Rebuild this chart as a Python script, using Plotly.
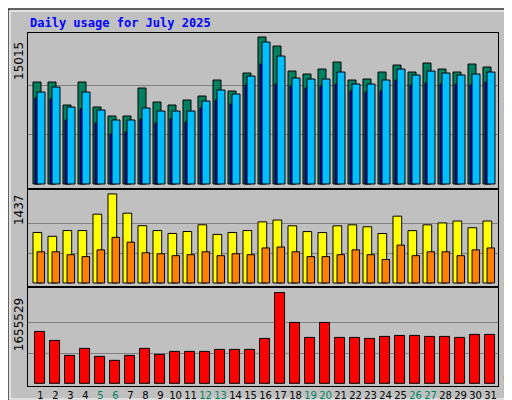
import plotly.graph_objects as go

days = list(range(1, 32))
weekend = [5, 6, 12, 13, 19, 20, 26, 27]

hits = [10415, 10415, 8066, 10415, 7862, 6943, 6943, 9802, 8372, 8066, 8577, 8985, 10619, 9495, 11333, 15015,
        14090, 11537, 11231, 11741, 12456, 10619, 10721, 11435, 12150, 11435, 12354, 11741, 11435, 12252, 11946]
files = [9393, 9904, 7862, 9393, 7556, 6535, 6535, 7760, 7453, 7453, 7453, 8474, 9598, 9189, 11027, 14498,
         13069, 10823, 10721, 10721, 11435, 10210, 10210, 10619, 11741, 11129, 11537, 11333, 11129, 11231, 11435]
pages = [8781, 8679, 6535, 7658, 6228, 5105, 5309, 6637, 6228, 6637, 6330, 7760, 8577, 8168, 10108, 12252,
         10210, 10006, 9802, 10006, 10210, 9495, 9393, 9495, 10619, 10108, 10312, 10210, 10210, 10108, 10415]
visits = [815, 753, 846, 846, 1110, 1437, 1126, 924, 846, 799, 830, 939, 784, 815, 846, 986,
          1016, 922, 829, 813, 922, 938, 907, 798, 1078, 844, 938, 969, 1000, 891, 1000]
sites = [503, 503, 456, 425, 534, 736, 658, 487, 471, 440, 456, 503, 440, 471, 456, 565,
         580, 503, 425, 425, 456, 534, 456, 378, 611, 440, 503, 503, 440, 534, 565]
kbytes = [946000, 782300, 509400, 636800, 491200, 418400, 509400, 636800, 527600, 582200, 582200, 582200,
          618600, 618600, 618600, 818700, 1655529, 1109800, 836900, 1109800, 836900, 836900, 818700, 855100,
          873300, 873300, 855100, 855100, 836900, 891500, 891500]

max_hits, max_visits, max_kb = 15015, 1437, 1655529

GREEN, FILES, PAGES = "#00805F", "#00BFFF", "#0000FF"
YEL, ORA, RED = "#FFFF00", "#FF8000", "#FF0000"
line = dict(color="black", width=1)

fig = go.Figure()


def bar(y, color, off, w, ax):
    fig.add_trace(go.Bar(x=days, y=y, marker=dict(color=color, line=line), offset=off, width=w,
                         xaxis="x" + ax, yaxis="y" + ax, hoverinfo="skip"))


bar(hits, GREEN, 0, 8 / 15, "")
bar(pages, PAGES, 2 / 15, 3 / 15, "")
bar(files, FILES, 4 / 15, 8 / 15, "")
bar(visits, YEL, 0, 0.58, "2")
bar(sites, ORA, 0.27, 0.5, "2")
bar(kbytes, RED, 0.1, 0.67, "3")

ticktext = [f'<span style="color:{GREEN}">{d}</span>' if d in weekend else str(d) for d in days]
xbase = dict(range=[2 / 3, 32], showline=True, mirror=True, linecolor="black", linewidth=1,
             showgrid=False, zeroline=False, fixedrange=True, automargin=False)
fig.update_layout(
    width=512, height=400, margin=dict(l=20, r=22, t=25, b=22),
    paper_bgcolor="#C0C0C0", plot_bgcolor="#C0C0C0", barmode="overlay", showlegend=False,
    font=dict(family="DejaVu Sans", size=11, color="black"),
    xaxis=dict(xbase, anchor="y", showticklabels=False),
    xaxis2=dict(xbase, anchor="y2", showticklabels=False, matches="x"),
    xaxis3=dict(xbase, anchor="y3", matches="x", tickvals=[d + 0.5 for d in days], ticktext=ticktext,
                ticks="", tickangle=0, tickfont=dict(size=10, family="DejaVu Sans")),
)
ybase = dict(showline=True, mirror=True, linecolor="black", linewidth=1, showticklabels=False,
             gridcolor="#808080", gridwidth=1, zeroline=False, ticks="", fixedrange=True, automargin=False)
fig.update_layout(
    yaxis=dict(ybase, domain=[0.561, 1], range=[-408, 15423], tickvals=[max_hits / 3, max_hits * 2 / 3]),
    yaxis2=dict(ybase, domain=[0.283, 0.555], range=[-51, 1499], tickvals=[max_visits / 3, max_visits * 2 / 3]),
    yaxis3=dict(ybase, domain=[0, 0.277], range=[-49000, 1733760], tickvals=[max_kb / 3, max_kb * 2 / 3]),
)

ann = dict(xref="paper", yref="paper", showarrow=False, textangle=-90)
lx = -9 / 470
fig.add_annotation(ann, x=lx, y=1 - 28 / 353, xanchor="center", yanchor="middle", text=str(max_hits), font=dict(size=12))
fig.add_annotation(ann, x=lx, y=0.555 - 20 / 353, xanchor="center", yanchor="middle", text=str(max_visits), font=dict(size=12))
fig.add_annotation(ann, x=lx, y=0.277 - 37 / 353, xanchor="center", yanchor="middle", text=str(max_kb), font=dict(size=12))
mono = dict(family="DejaVu Sans Mono", size=11)
rx = 1 + 10 / 470
fig.add_annotation(ann, x=rx, y=1 - 67 / 353, xanchor="center", yanchor="middle", font=mono,
                   text=f'<span style="color:{FILES}">Pages</span> / <span style="color:{PAGES}">Files</span>'
                        f' / <span style="color:{GREEN}">Hits</span>')
fig.add_annotation(ann, x=rx, y=0.555 - 50 / 353, xanchor="center", yanchor="middle", font=mono,
                   text=f'<span style="color:{ORA}">Sites</span> / <span style="color:{YEL}">Visits</span>')
fig.add_annotation(ann, x=rx, y=72 / 353 - 53 / 353, xanchor="center", yanchor="middle", font=mono,
                   text=f'<span style="color:{RED}">KBytes</span>')
fig.add_annotation(xref="paper", yref="paper", x=0, y=1 + 10 / 353, xanchor="left", yanchor="middle", showarrow=False,
                   text="<b>Daily usage for July 2025</b>", font=dict(family="DejaVu Sans Mono", size=12, color="#0000FF"))

# outer border
fig.add_shape(type="rect", xref="paper", yref="paper", x0=-20 / 470, x1=491 / 470, y0=-21 / 353, y1=1 + 24 / 353,
              line=dict(color="black", width=1), layer="below")
fig.add_shape(type="rect", xref="paper", yref="paper", x0=-18 / 470, x1=482 / 470, y0=-13 / 353, y1=1 + 22 / 353,
              line=dict(color="white", width=1), layer="below")

fig.write_html("out.html")
